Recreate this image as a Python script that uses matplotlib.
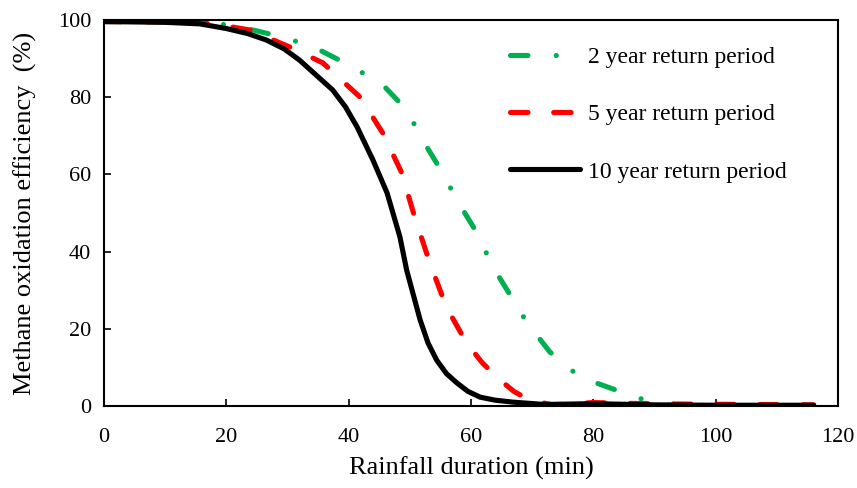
import matplotlib.pyplot as plt
import numpy as np

plt.rcParams['font.family'] = ['Liberation Serif', 'DejaVu Serif']
plt.rcParams['mathtext.default'] = 'rm'

# 2 year return period
t2 = [0, 10, 13, 20, 24.4, 30, 35.3, 40.5, 45.6, 49.5, 52.1, 55.3, 57.7, 61, 63.6, 66.4,
      69.2, 72.9, 77.8, 82.7, 87.6, 90.4, 95, 105, 116]
e2 = [99.6, 99.6, 99.5, 98.8, 97.4, 95.3, 92.2, 88.0, 83.2, 76.7, 68.9, 60.6, 53.4, 44.8, 36.0, 28.8,
      21.5, 14.0, 7.5, 4.7, 2.0, 0.3, 0.1, 0.1, 0.1]

# 5 year return period
t5 = [0, 10, 18, 23.9, 30.4, 35.8, 41.9, 45.6, 48.7, 50.8, 53.3, 56, 59.3, 61.8, 64.2, 67, 69.6,
      73.4, 77, 80, 85, 95, 105, 116]
e5 = [99.6, 99.5, 99.0, 97.4, 93.0, 88.9, 80.0, 70.7, 60.4, 49.0, 37.0, 25.6, 16.3, 11.3, 7.5, 3.8, 1.5,
      0.3, 0.6, 0.9, 0.7, 0.5, 0.4, 0.3]

# 10 year return period
t10 = [0, 10, 15.7, 20, 23.5, 26.6, 29.5, 32, 34.8, 37.4, 39.5, 41.4, 44, 46.3, 48.4, 49.5, 51.7, 53,
       54.4, 56, 57.7, 59.5, 61.5, 64, 66.9, 72, 80, 90, 100, 116]
e10 = [99.6, 99.4, 99.0, 97.8, 96.5, 94.8, 92.5, 89.6, 85.6, 81.9, 77.5, 72.3, 63.7, 55.2, 43.8, 35.2,
       22.3, 16.3, 11.9, 8.4, 6.0, 3.8, 2.3, 1.5, 1.0, 0.4, 0.6, 0.3, 0.2, 0.2]

fig = plt.figure(figsize=(8.57, 4.88), dpi=100)
ax = fig.add_axes([0.121, 0.168, 0.857, 0.791])

lw = 3.7
ax.plot(t2, e2, color='#00b050', lw=lw, dashes=(3.4, 5.5, 0.01, 5.5), dash_capstyle='round',
        solid_capstyle='round', label='2 year return period')
ax.plot(t5, e5, color='#ff0000', lw=lw, dashes=(3.4, 5.0), dash_capstyle='round',
        label='5 year return period')
ax.plot(t10, e10, color='black', lw=lw, solid_capstyle='round', solid_joinstyle='round',
        label='10 year return period')

ax.set_xlim(0, 120)
ax.set_ylim(0, 100)
ax.set_xticks(np.arange(0, 121, 20))
ax.set_yticks(np.arange(0, 101, 20))
ax.tick_params(direction='in', length=5, width=1.2, labelsize=16)
ax.tick_params(axis='x', pad=16)
ax.tick_params(axis='y', pad=9)
for s in ax.spines.values():
    s.set_linewidth(1.5)

ax.set_xlabel('Rainfall duration (min)', fontsize=19, labelpad=7)
ax.set_ylabel('Methane oxidation efficiency  (%)', fontsize=19, labelpad=15)

ax.legend(loc='upper left', bbox_to_anchor=(0.553, 0.932), frameon=False, fontsize=17,
          borderpad=0, borderaxespad=0, handlelength=2.95, handletextpad=0.34,
          labelspacing=1.52)

plt.savefig('out.png', dpi=100)
